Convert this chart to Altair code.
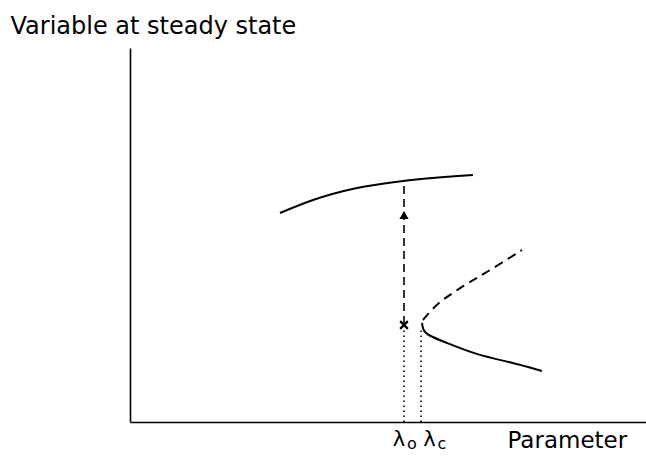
import altair as alt
import pandas as pd

# Steady-state branches (parameter, variable) in arbitrary units
upper_x = [15.0, 18.3, 22.7, 27.3, 34.3]
upper_y = [20.9, 22.2, 23.4, 24.1, 24.7]

lower_x = [29.2, 29.3, 29.7, 31.7, 34.7, 38.0, 41.2]
lower_y = [9.9, 9.2, 8.7, 7.9, 6.7, 6.0, 5.1]

unstable_x = [29.3, 29.7, 30.8, 32.0, 33.3, 34.7, 36.5, 39.2]
unstable_y = [10.2, 10.7, 11.9, 12.7, 13.6, 14.4, 15.5, 17.2]

# Jump from the perturbed state at lambda_0 up to the upper branch
lam0 = 27.4
lamc = 29.1
jump_y = [9.8, 24.0]
arrow_y = 20.7
cross_y = 9.7

# Dotted markers down to the parameter axis
marker_x = [lam0, lamc]
marker_top = [9.2, 9.2]

# Parameter labels under the axis (centre of the lambda glyph)
label_x = [26.9, 29.95]
label_sub = ["o", "c"]

X_MAX, Y_MAX = 51.6, 37.4
FONT = "DejaVu Sans"

xs = alt.Scale(domain=[0, X_MAX], nice=False, zero=False)
ys = alt.Scale(domain=[0, Y_MAX], nice=False, zero=False)

upper = pd.DataFrame({"p": upper_x, "v": upper_y})
lower = pd.DataFrame({"p": lower_x, "v": lower_y})
unstable = pd.DataFrame({"p": unstable_x, "v": unstable_y})
jump = pd.DataFrame({"p": [lam0, lam0], "v": jump_y})
markers = pd.DataFrame({"p": marker_x, "v": marker_top, "v0": [0, 0]})
labels = pd.DataFrame({"p": label_x, "sub": label_sub})

base_x = alt.X(
    "p:Q", scale=xs,
    axis=alt.Axis(
        title="Parameter", labels=False, ticks=False, grid=False,
        domainColor="black", domainWidth=1.6,
        titleFont=FONT, titleFontSize=23, titleFontWeight="normal",
        titleAlign="left", titleBaseline="alphabetic",
        titleX=377, titleY=25, titleColor="black",
    ),
)
base_y = alt.Y(
    "v:Q", scale=ys,
    axis=alt.Axis(
        title="Variable at steady state", labels=False, ticks=False, grid=False,
        domainColor="black", domainWidth=1.6,
        titleFont=FONT, titleFontSize=24, titleFontWeight="normal",
        titleAngle=0, titleAlign="left", titleBaseline="alphabetic",
        titleX=-120, titleY=-15, titleColor="black",
    ),
)

upper_line = alt.Chart(upper).mark_line(
    color="black", strokeWidth=2, interpolate="monotone"
).encode(x=base_x, y=base_y)

lower_line = alt.Chart(lower).mark_line(
    color="black", strokeWidth=2, interpolate="basis"
).encode(x="p:Q", y="v:Q")

unstable_line = alt.Chart(unstable).mark_line(
    color="black", strokeWidth=2, strokeDash=[9, 6], interpolate="basis"
).encode(x="p:Q", y="v:Q")

jump_line = alt.Chart(jump).mark_line(
    color="black", strokeWidth=1.6, strokeDash=[8, 5]
).encode(x="p:Q", y="v:Q")

arrow = alt.Chart(pd.DataFrame({"p": [lam0], "v": [arrow_y]})).mark_point(
    shape="triangle-up", filled=True, color="black", size=85, opacity=1
).encode(x="p:Q", y="v:Q")

cross = alt.Chart(pd.DataFrame({"p": [lam0], "v": [cross_y]})).mark_point(
    shape="M -1 -1 L 1 1 M -1 1 L 1 -1", filled=False, color="black",
    strokeWidth=2.2, size=60, opacity=1
).encode(x="p:Q", y="v:Q")

dotted = alt.Chart(markers).mark_rule(
    color="black", strokeWidth=1.6, strokeDash=[1.5, 3.5]
).encode(x="p:Q", y="v0:Q", y2="v:Q")

lam_text = alt.Chart(labels).mark_text(
    text="λ", font=FONT, fontSize=21, color="black", align="center", baseline="alphabetic"
).encode(x="p:Q", y=alt.value(398))

sub_text = alt.Chart(labels).mark_text(
    font=FONT, fontSize=16, color="black", align="left", baseline="alphabetic", dx=8
).encode(x="p:Q", y=alt.value(401), text="sub:N")

chart = alt.layer(
    upper_line, lower_line, unstable_line, jump_line, arrow, cross,
    dotted, lam_text, sub_text
).properties(
    width=516, height=374,
    padding={"left": 130, "top": 48, "right": 0, "bottom": 40},
    autosize=alt.AutoSizeParams(type="none"),
    background="white",
).configure_view(stroke=None)

chart.save("out.html", embed_options={"renderer": "svg", "actions": False})
